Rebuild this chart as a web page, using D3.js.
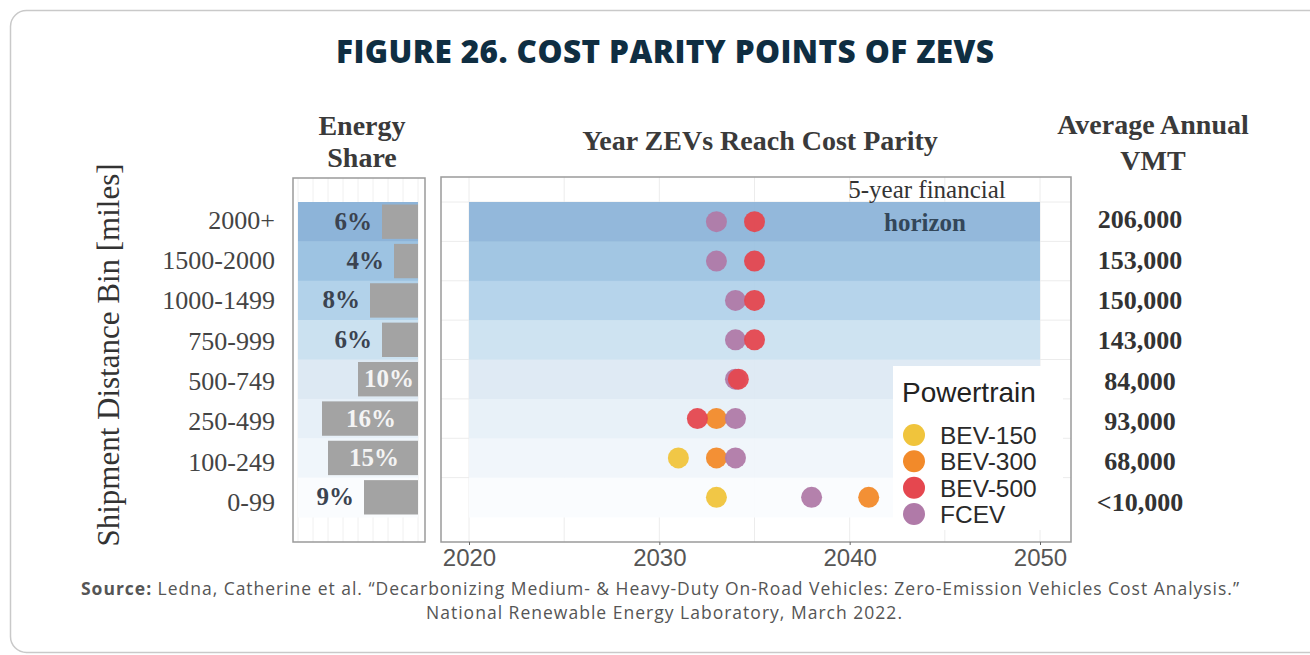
<!DOCTYPE html>
<html>
<head>
<meta charset="utf-8">
<script src="https://cdn.jsdelivr.net/npm/d3@7"></script>
<style>
  body { margin: 0; background: #fff; }
  svg { display: block; }
</style>
</head>
<body>
<svg id="canvas"></svg>
<script>
// chart data
const bins = ['2000+', '1500-2000', '1000-1499', '750-999', '500-749', '250-499', '100-249', '0-99'];
const energyShare = [6, 4, 8, 6, 10, 16, 15, 9];
const vmt = ['206,000', '153,000', '150,000', '143,000', '84,000', '93,000', '68,000', '<10,000'];
const powertrains = ['BEV-150', 'BEV-300', 'BEV-500', 'FCEV'];
const bev150 = [null, null, null, null, null, null, 2031, 2033];
const bev300 = [null, null, null, null, null, 2033, 2033, 2041];
const fcev = [2033, 2033, 2034, 2034, 2034, 2034, 2034, 2038];
const bev500 = [2035, 2035, 2035, 2035, 2034.15, 2032, null, null];
const yearTicks = [2020, 2030, 2040, 2050];
const horizon = [2020, 2050];

const width = 1310;
const height = 655;
const serif = '"Liberation Serif", "DejaVu Serif", serif';
const sans = '"Liberation Sans", Arial, sans-serif';

const svg = d3.select('#canvas').attr('width', width).attr('height', height);

// card
svg.append('rect')
  .attr('x', 10.5).attr('y', 10.5)
  .attr('width', 1330).attr('height', 642)
  .attr('rx', 16)
  .attr('fill', '#fff')
  .attr('stroke', '#c9c9c9')
  .attr('stroke-width', 1.5);

svg.append('text')
  .attr('x', 665).attr('y', 63)
  .attr('text-anchor', 'middle')
  .attr('textLength', 658)
  .style('font-family', '"Open Sans", sans-serif')
  .style('font-weight', 800)
  .style('font-size', '31.5px')
  .attr('fill', '#0f2e42')
  .text('FIGURE 26. COST PARITY POINTS OF ZEVS');

// shared row scale
const y = d3.scaleBand().domain(bins).range([202, 517]);
// text rows sit on a slightly taller grid than the bars
const yl = d3.scaleBand().domain(bins).range([199, 522]);
const bandFill = ['#8db4d9', '#9dc3e2', '#b2d2ea', '#cbe1f0', '#dde9f3', '#e7f0f8', '#f0f6fb', '#fafcfe'];

// ---- main panel
const x = d3.scaleLinear().domain([2020, 2050]).range([469, 1040]);
const panel = svg.append('g');

panel.append('rect')
  .attr('x', 441).attr('y', 177).attr('width', 630).attr('height', 365)
  .attr('fill', '#fff');

// grid
panel.selectAll('line.vgrid')
  .data(d3.range(2020, 2051, 5))
  .enter().append('line')
  .attr('x1', (d) => x(d)).attr('x2', (d) => x(d))
  .attr('y1', 177).attr('y2', 542)
  .attr('stroke', '#ececec').attr('stroke-width', 1);
panel.selectAll('line.hgrid')
  .data(bins)
  .enter().append('line')
  .attr('x1', 441).attr('x2', 1071)
  .attr('y1', (d) => y(d)).attr('y2', (d) => y(d))
  .attr('stroke', '#ececec').attr('stroke-width', 1);

panel.selectAll('rect.band')
  .data(bins)
  .enter().append('rect')
  .attr('x', x(horizon[0]))
  .attr('y', (d) => y(d))
  .attr('width', x(horizon[1]) - x(horizon[0]))
  .attr('height', y.bandwidth() + 0.5)
  .attr('fill', (d, i) => bandFill[i])
  .attr('opacity', 0.95);

panel.append('text')
  .attr('x', 927).attr('y', 198)
  .attr('text-anchor', 'middle')
  .style('font-family', serif).style('font-size', '25px')
  .attr('fill', '#333')
  .text('5-year financial');
panel.append('text')
  .attr('x', 925).attr('y', 231)
  .attr('text-anchor', 'middle')
  .style('font-family', serif).style('font-size', '25px').style('font-weight', 700)
  .attr('fill', '#33475a')
  .text('horizon');

const color = d3.scaleOrdinal().domain(powertrains).range(['#f0c43c', '#f28a2a', '#e5474f', '#b07aa8']);
const series = [['BEV-150', bev150], ['BEV-300', bev300], ['FCEV', fcev], ['BEV-500', bev500]];
series.forEach(([name, vals]) => {
  panel.selectAll(null)
    .data(vals.map((v, i) => ({ v, bin: bins[i] })).filter((d) => d.v !== null))
    .enter().append('circle')
    .attr('cx', (d) => x(d.v))
    .attr('cy', (d) => y(d.bin) + y.bandwidth() / 2)
    .attr('r', 10.5)
    .attr('fill', color(name))
    .attr('opacity', 0.95);
});

// legend
const legend = panel.append('g');
legend.append('rect')
  .attr('x', 893).attr('y', 366).attr('width', 170).attr('height', 164)
  .attr('fill', '#fff');
legend.append('text')
  .attr('x', 902).attr('y', 402)
  .style('font-family', sans).style('font-size', '28px')
  .attr('fill', '#222')
  .text('Powertrain');
const ly = d3.scalePoint().domain(powertrains).range([435, 514]);
legend.selectAll('circle')
  .data(powertrains)
  .enter().append('circle')
  .attr('cx', 914).attr('cy', (d) => ly(d))
  .attr('r', 11)
  .attr('fill', (d) => color(d));
legend.selectAll('text.item')
  .data(powertrains)
  .enter().append('text')
  .attr('x', 940).attr('y', (d) => ly(d) + 9)
  .style('font-family', sans).style('font-size', '24.5px')
  .attr('fill', '#2a2a2a')
  .text((d) => d);

panel.append('rect')
  .attr('x', 441).attr('y', 177).attr('width', 630).attr('height', 365)
  .attr('fill', 'none').attr('stroke', '#9a9a9a').attr('stroke-width', 1.5);

const xAxis = d3.axisBottom(x).tickValues(yearTicks).tickFormat(d3.format('d')).tickSize(3).tickPadding(4);
const xg = panel.append('g').attr('transform', 'translate(0, 542)').call(xAxis);
xg.select('.domain').remove();
xg.selectAll('line').attr('stroke', '#666');
xg.selectAll('text')
  .style('font-family', sans).style('font-size', '24px')
  .attr('fill', '#555');

panel.append('text')
  .attr('x', 760).attr('y', 150)
  .attr('text-anchor', 'middle')
  .style('font-family', serif).style('font-size', '28px').style('font-weight', 700)
  .attr('fill', '#3a3a3a')
  .text('Year ZEVs Reach Cost Parity');

// ---- energy share panel
const share = svg.append('g');
const sx = d3.scaleLinear().domain([0, 20]).range([418, 298]);
share.append('rect')
  .attr('x', 293).attr('y', 178).attr('width', 132).attr('height', 364)
  .attr('fill', '#fff');
share.selectAll('line.vgrid')
  .data(d3.range(0, 21, 2.5))
  .enter().append('line')
  .attr('x1', (d) => sx(d)).attr('x2', (d) => sx(d))
  .attr('y1', 178).attr('y2', 542)
  .attr('stroke', '#f0f0f0');
share.selectAll('rect.band')
  .data(bins)
  .enter().append('rect')
  .attr('x', sx(20)).attr('y', (d) => y(d))
  .attr('width', sx(0) - sx(20)).attr('height', y.bandwidth() + 0.5)
  .attr('fill', (d, i) => bandFill[i]);
const barPad = 2.5;
share.selectAll('rect.bar')
  .data(energyShare)
  .enter().append('rect')
  .attr('x', (d) => sx(d))
  .attr('y', (d, i) => y(bins[i]) + barPad)
  .attr('width', (d) => sx(0) - sx(d))
  .attr('height', y.bandwidth() - barPad * 2)
  .attr('fill', '#a3a3a3');
share.selectAll('text.pct')
  .data(energyShare)
  .enter().append('text')
  .attr('x', (d) => (d >= 10 ? (sx(d) + sx(0)) / 2 + 1 : sx(d) - 10))
  .attr('y', (d, i) => y(bins[i]) + y.bandwidth() / 2 + 8)
  .attr('text-anchor', (d) => (d >= 10 ? 'middle' : 'end'))
  .style('font-family', serif).style('font-size', '25px').style('font-weight', 700)
  .attr('fill', (d) => (d >= 10 ? '#f4f4f4' : '#3b4350'))
  .text((d) => `${d}%`);
share.append('rect')
  .attr('x', 293).attr('y', 178).attr('width', 132).attr('height', 364)
  .attr('fill', 'none').attr('stroke', '#9a9a9a').attr('stroke-width', 1.5);
share.selectAll('text.head')
  .data(['Energy', 'Share'])
  .enter().append('text')
  .attr('x', 362).attr('y', (d, i) => 135 + i * 32)
  .attr('text-anchor', 'middle')
  .style('font-family', serif).style('font-size', '28px').style('font-weight', 700)
  .attr('fill', '#3a3a3a')
  .text((d) => d);

// ---- row labels
const yAxis = d3.axisLeft(yl).tickSize(0).tickPadding(0);
const yg = svg.append('g').attr('transform', 'translate(275, 1)').call(yAxis);
yg.select('.domain').remove();
yg.selectAll('text')
  .style('font-family', serif).style('font-size', '26px')
  .attr('fill', '#444');

svg.append('text')
  .attr('transform', 'translate(119, 355) rotate(-90)')
  .attr('text-anchor', 'middle')
  .style('font-family', serif).style('font-size', '31px')
  .attr('fill', '#333')
  .text('Shipment Distance Bin [miles]');

// ---- VMT column
svg.selectAll('text.vmt')
  .data(vmt)
  .enter().append('text')
  .attr('x', 1140)
  .attr('y', (d, i) => yl(bins[i]) + yl.bandwidth() / 2 + 9)
  .attr('text-anchor', 'middle')
  .style('font-family', serif).style('font-size', '26px').style('font-weight', 700)
  .attr('fill', '#333')
  .text((d) => d);
svg.selectAll('text.vhead')
  .data(['Average Annual', 'VMT'])
  .enter().append('text')
  .attr('x', 1153).attr('y', (d, i) => 134 + i * 36)
  .attr('text-anchor', 'middle')
  .style('font-family', serif).style('font-size', '28px').style('font-weight', 700)
  .attr('fill', '#3a3a3a')
  .text((d) => d);

// ---- source
const src = svg.append('text')
  .attr('x', 660).attr('y', 595)
  .attr('text-anchor', 'middle')
  .attr('textLength', 1158)
  .style('font-family', '"Open Sans", sans-serif').style('font-size', '17.5px')
  .attr('fill', '#555');
src.append('tspan').style('font-weight', 700).text('Source:');
src.append('tspan').text(' Ledna, Catherine et al. \u201CDecarbonizing Medium- & Heavy-Duty On-Road Vehicles: Zero-Emission Vehicles Cost Analysis.\u201D');
svg.append('text')
  .attr('x', 664).attr('y', 619)
  .attr('text-anchor', 'middle')
  .attr('textLength', 476)
  .style('font-family', '"Open Sans", sans-serif').style('font-size', '17.5px')
  .attr('fill', '#555')
  .text('National Renewable Energy Laboratory, March 2022.');
</script>
</body>
</html>
